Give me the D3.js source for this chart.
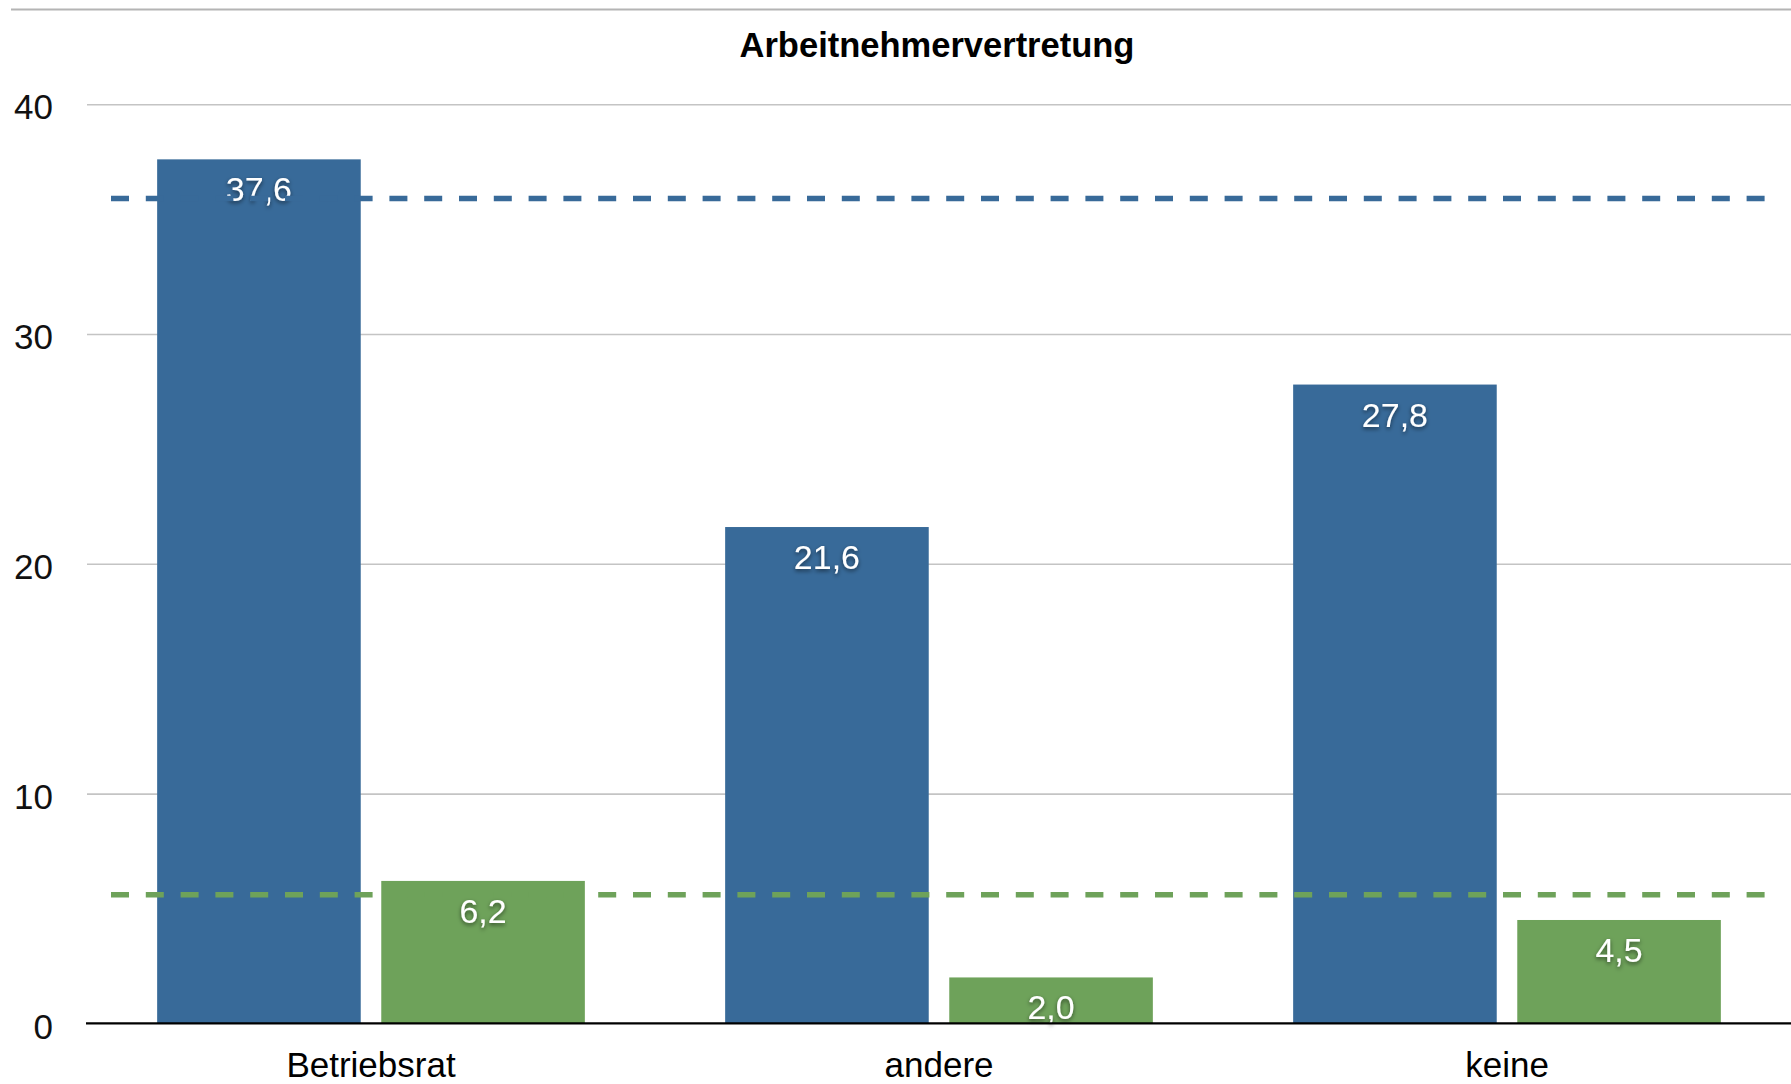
<!DOCTYPE html>
<html><head><meta charset="utf-8">
<script src="https://cdn.jsdelivr.net/npm/d3@7"></script>
<style>
html,body{margin:0;padding:0;background:#fff;}
svg{display:block;font-family:"Liberation Sans",Arial,Helvetica,sans-serif;}
</style></head>
<body>
<svg id="chart" width="1791" height="1084"></svg>
<script>
const title = "Arbeitnehmervertretung";
const categories = ["Betriebsrat", "andere", "keine"];
const seriesNames = ["Reihe 1", "Reihe 2"];
const seriesA = [37.6, 21.6, 27.8];
const seriesB = [6.2, 2.0, 4.5];
const averages = [35.9, 5.6];
const yTicks = [0, 10, 20, 30, 40];
const colors = ["#386a99", "#6ea25a"];

const W = 1791, H = 1084;
const svg = d3.select("#chart");
const defs = svg.append("defs");
const f = defs.append("filter").attr("id","shadow").attr("x","-20%").attr("y","-20%").attr("width","140%").attr("height","160%");
f.append("feDropShadow").attr("dx",0).attr("dy",2).attr("stdDeviation",2.2).attr("flood-color","#000").attr("flood-opacity",0.55);

const x = d3.scaleBand().domain(categories).range([87, W]).paddingInner(0).paddingOuter(0);
const xs = d3.scaleBand().domain(seriesNames).range([0, x.bandwidth()]).paddingInner(0.0916).paddingOuter(0.313);
const y = d3.scaleLinear().domain([0, 40]).range([1023.4, 104.2]);

// top border line
svg.append("line").attr("x1",11).attr("x2",W).attr("y1",9.5).attr("y2",9.5)
  .attr("stroke","#b4b4b4").attr("stroke-width",2);

// title
svg.append("text").attr("x",937).attr("y",57).attr("text-anchor","middle")
  .attr("font-weight","bold").attr("font-size",34.5).attr("fill","#000").text(title);

// gridlines
const yAxis = d3.axisLeft(y).tickValues(yTicks).tickSize(-(W-87)).tickFormat(d3.format("d")).tickPadding(34);
const gy = svg.append("g").attr("transform","translate(87,0)").call(yAxis);
gy.select(".domain").remove();
gy.selectAll(".tick line").attr("stroke", d => d === 0 ? "none" : "#c4c4c4").attr("stroke-width",1.6);
gy.selectAll(".tick text").attr("font-size",35).attr("fill","#111").attr("dy","0.42em")
  .attr("font-family","'Liberation Sans',Arial,sans-serif");

// data
const data = categories.map((c,i)=>({cat:c, vals:[seriesA[i], seriesB[i]]}));
const groups = svg.append("g").selectAll("g").data(data).join("g")
  .attr("transform", d => `translate(${x(d.cat)},0)`);
groups.selectAll("rect").data(d => d.vals.map((v,j)=>({v, s:seriesNames[j], j})))
  .join("rect")
  .attr("x", d => xs(d.s)).attr("width", xs.bandwidth())
  .attr("y", d => y(d.v)).attr("height", d => y(0) - y(d.v))
  .attr("fill", d => colors[d.j]);

// zero axis line
svg.append("line").attr("x1",86).attr("x2",W).attr("y1",y(0)).attr("y2",y(0))
  .attr("stroke","#000").attr("stroke-width",2.2);

// average dashed lines
svg.append("g").selectAll("line").data(averages).join("line")
  .attr("x1",111).attr("x2",1767)
  .attr("y1", d => y(d)).attr("y2", d => y(d))
  .attr("stroke", (d,i) => colors[i]).attr("stroke-width",5.5)
  .attr("stroke-dasharray","18,16.8");

// value labels
const fmt = v => d3.format(".1f")(v).replace(".", ",");
groups.selectAll("text.val").data(d => d.vals.map((v,j)=>({v, s:seriesNames[j], j})))
  .join("text").attr("class","val")
  .attr("x", d => xs(d.s) + xs.bandwidth()/2)
  .attr("y", d => y(d.v) + 42)
  .attr("text-anchor","middle").attr("font-size",34).attr("fill","#fff")
  .attr("filter","url(#shadow)")
  .text(d => fmt(d.v));

// category labels
const xAxis = d3.axisBottom(x).tickSize(0).tickPadding(0);
const gx = svg.append("g").attr("transform",`translate(0,${y(0)})`).call(xAxis);
gx.select(".domain").remove();
gx.selectAll(".tick text").attr("font-size",35).attr("fill","#000").attr("dy","1.52em")
  .attr("font-family","'Liberation Sans',Arial,sans-serif");
</script>
</body></html>
